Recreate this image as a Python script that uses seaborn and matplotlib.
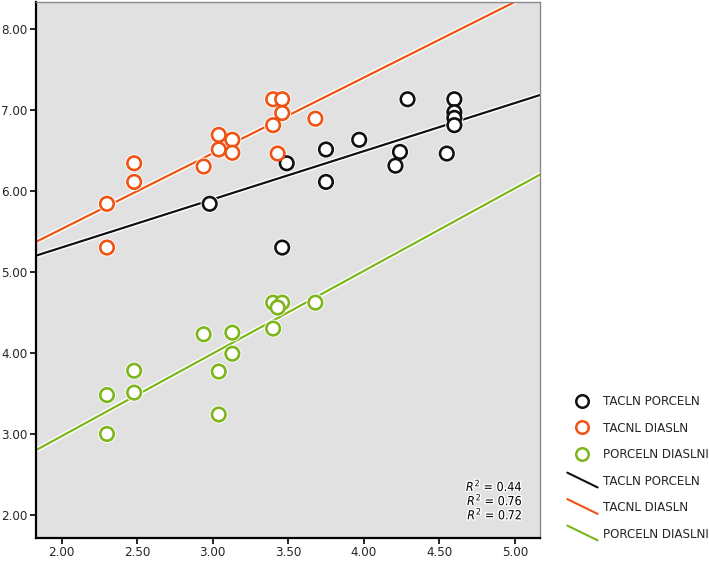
import numpy as np
import pandas as pd
import seaborn as sns
import matplotlib
matplotlib.use("Agg")
import matplotlib.pyplot as plt
import matplotlib.patheffects as pe
from matplotlib.lines import Line2D
from matplotlib.legend_handler import HandlerLine2D

# --- data -----------------------------------------------------------------
series_names = ["TACLN PORCELN", "TACNL DIASLN", "PORCELN DIASLNI"]
series_colors = ["#111111", "#EE5314", "#7DB51A"]

tacln_porceln_x = [2.98, 3.46, 3.49, 3.75, 3.75, 3.97, 4.29, 4.24, 4.21,
                   4.55, 4.60, 4.60, 4.60, 4.60]
tacln_porceln_y = [5.84, 5.30, 6.34, 6.51, 6.11, 6.63, 7.13, 6.48, 6.31,
                   6.46, 7.13, 6.97, 6.90, 6.81]

tacnl_diasln_x = [2.30, 2.30, 2.48, 2.48, 2.94, 3.04, 3.04, 3.13, 3.13,
                  3.40, 3.46, 3.46, 3.40, 3.43, 3.68]
tacnl_diasln_y = [5.84, 5.30, 6.34, 6.11, 6.30, 6.69, 6.51, 6.63, 6.47,
                  7.13, 7.13, 6.96, 6.81, 6.46, 6.89]

porceln_diaslni_x = [2.30, 2.30, 2.48, 2.48, 2.94, 3.04, 3.04, 3.13, 3.13,
                     3.40, 3.46, 3.43, 3.40, 3.68]
porceln_diaslni_y = [3.48, 3.00, 3.78, 3.51, 4.23, 3.77, 3.24, 4.25, 3.99,
                     4.62, 4.62, 4.56, 4.30, 4.62]

# linear fit lines (intercept, slope) per series
fit_intercepts = [4.113, 3.661, 0.935]
fit_slopes = [0.594, 0.934, 1.019]
r2_labels = ["0.44", "0.76", "0.72"]

x_ticks = [2.0, 2.5, 3.0, 3.5, 4.0, 4.5, 5.0]
y_ticks = [2.0, 3.0, 4.0, 5.0, 6.0, 7.0, 8.0]

df = pd.concat([
    pd.DataFrame({"x": tacln_porceln_x, "y": tacln_porceln_y, "grupo": series_names[0]}),
    pd.DataFrame({"x": tacnl_diasln_x, "y": tacnl_diasln_y, "grupo": series_names[1]}),
    pd.DataFrame({"x": porceln_diaslni_x, "y": porceln_diaslni_y, "grupo": series_names[2]}),
], ignore_index=True)

# --- style ----------------------------------------------------------------
sns.set_style("white")
plt.rcParams["font.family"] = ["DejaVu Sans"]
plt.rcParams["font.stretch"] = "condensed"
plt.rcParams["mathtext.fontset"] = "dejavusans"

X_LIM = (1.83, 5.167)
Y_LIM = (1.716, 8.33)

fig = plt.figure(figsize=(7.09, 5.62), dpi=100)
ax = fig.add_axes([36 / 709, 24 / 562, 504 / 709, 536 / 562])
ax.set_facecolor("#E1E1E1")

halo_line = [pe.Stroke(linewidth=3.6, foreground="white"), pe.Normal()]
halo_mark = [pe.Stroke(linewidth=3.2, foreground="white"), pe.Normal()]

# fit lines spanning the full x range
xs = np.array(X_LIM)
fit_df = pd.concat([
    pd.DataFrame({"x": xs, "y": b0 + b1 * xs, "grupo": name})
    for name, b0, b1 in zip(series_names, fit_intercepts, fit_slopes)
], ignore_index=True)
sns.lineplot(data=fit_df, x="x", y="y", hue="grupo", hue_order=series_names,
             palette=series_colors, ax=ax, lw=1.6, legend=False,
             path_effects=halo_line, zorder=2)

# open-circle markers
sns.scatterplot(data=df, x="x", y="y", hue="grupo", hue_order=series_names,
                palette=series_colors, ax=ax, s=95, marker="o",
                linewidth=1.9, legend=False, zorder=3)
for coll in ax.collections:
    coll.set_facecolor("white")
    coll.set_edgecolor([series_colors[series_names.index(g)] for g in df["grupo"]])
    coll.set_path_effects(halo_mark)

ax.set_xlim(*X_LIM)
ax.set_ylim(*Y_LIM)
ax.set_xticks(x_ticks)
ax.set_yticks(y_ticks)
ax.set_xticklabels([f"{v:.2f}" for v in x_ticks])
ax.set_yticklabels([f"{v:.2f}" for v in y_ticks])
ax.set_xlabel("")
ax.set_ylabel("")
ax.tick_params(axis="both", direction="out", length=4, width=1.2, color="black",
               labelsize=9.5, pad=2, bottom=True, left=True)

for side in ("left", "bottom"):
    ax.spines[side].set_color("black")
    ax.spines[side].set_linewidth(1.6)
for side in ("top", "right"):
    ax.spines[side].set_color("#8C8C8C")
    ax.spines[side].set_linewidth(1.0)

# R² annotations, one block
r2_block = "\n".join(f"$R^2$ = {r2}" for r2 in r2_labels)
ax.text(0.966, 0.071, r2_block, transform=ax.transAxes,
        ha="right", va="center", multialignment="right", fontsize=9,
        linespacing=0.82, color="black",
        path_effects=[pe.withStroke(linewidth=2, foreground="white")])


class DiagonalHandler(HandlerLine2D):
    def create_artists(self, legend, orig_handle, xdescent, ydescent,
                       width, height, fontsize, trans):
        ln = Line2D([-xdescent, width - xdescent],
                    [height + 2 - ydescent, -2 - ydescent],
                    color=orig_handle.get_color(),
                    lw=orig_handle.get_linewidth())
        ln.set_transform(trans)
        return [ln]


marker_handles = [Line2D([], [], ls="none", marker="o", markersize=9,
                         markerfacecolor="none", markeredgecolor=c,
                         markeredgewidth=1.8) for c in series_colors]
line_handles = [Line2D([], [], color=c, lw=1.5) for c in series_colors]

leg = fig.legend(marker_handles + line_handles, series_names + series_names,
                 loc="upper left", bbox_to_anchor=(562 / 709, 1 - 390 / 562),
                 frameon=False, fontsize=9.5, handlelength=2.3,
                 handletextpad=0.4, labelspacing=1.02, borderaxespad=0,
                 handler_map={h: DiagonalHandler() for h in line_handles})

fig.savefig("out.png", dpi=100)
